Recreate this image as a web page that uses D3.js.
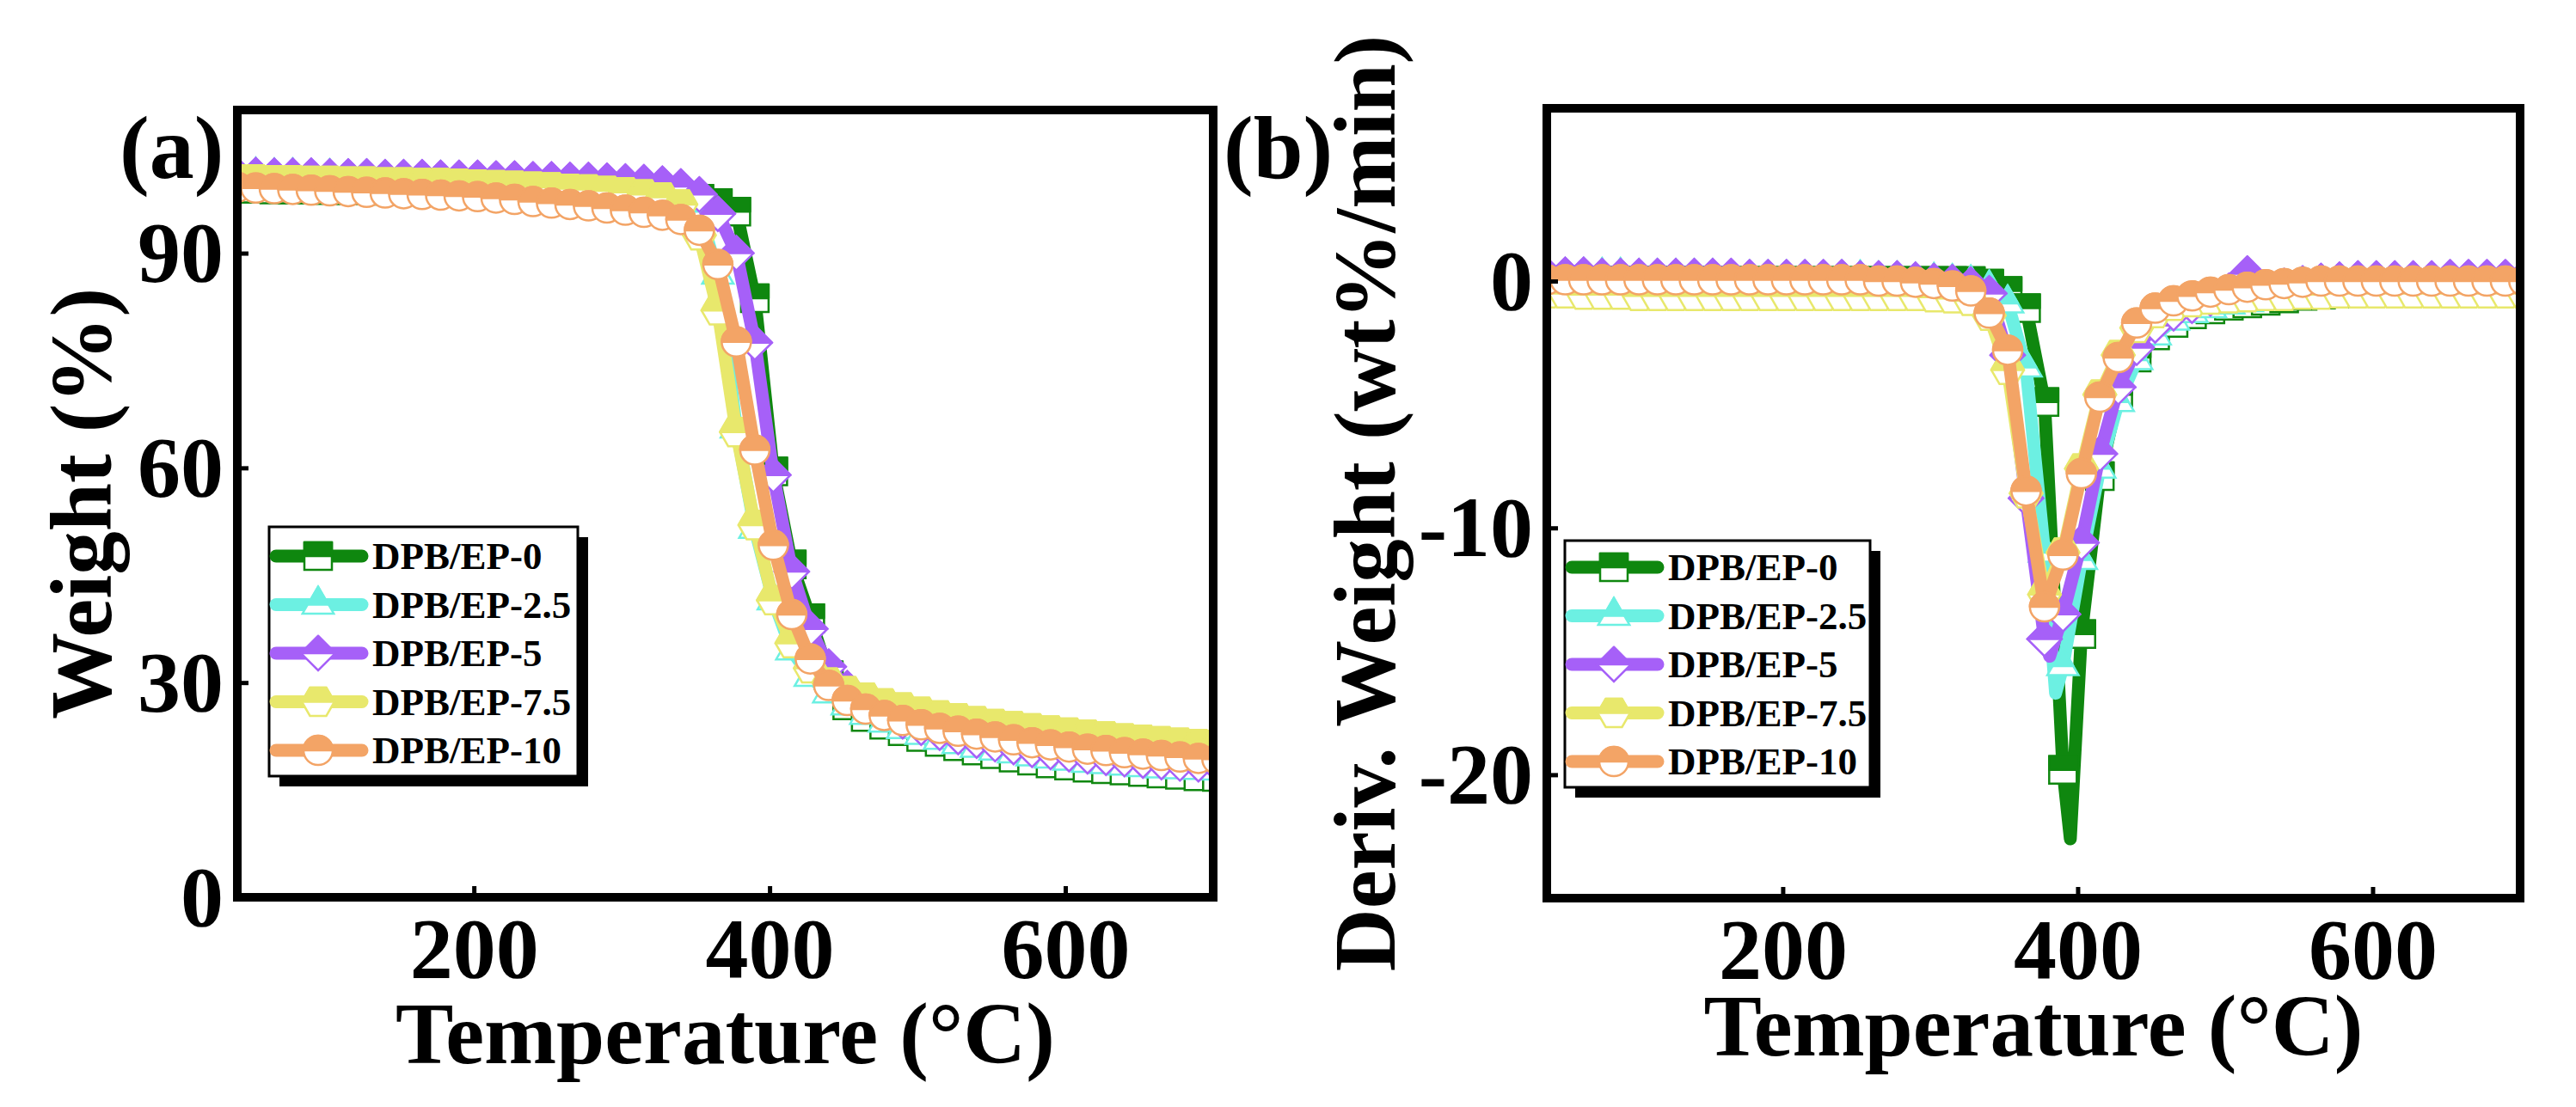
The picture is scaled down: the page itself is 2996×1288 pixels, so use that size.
<!DOCTYPE html>
<html>
<head>
<meta charset="utf-8">
<script src="https://cdn.jsdelivr.net/npm/d3@7"></script>
<style>
  body { margin: 0; background: #fff; }
  svg text { font-family: "Liberation Serif", "Times New Roman", serif; font-weight: bold; fill: #000; }
</style>
</head>
<body>
<svg id="chart" width="2996" height="1288"></svg>
<script>
// temperatures of the plotted points (degC)
const temps = [40, 52.5, 65, 77.5, 90, 102.5, 115, 127.5, 140, 152.5,
    165, 177.5, 190, 202.5, 215, 227.5, 240, 252.5, 265, 277.5,
    290, 302.5, 315, 327.5, 340, 352.5, 365, 377.5, 390, 402.5,
    415, 427.5, 440, 452.5, 465, 477.5, 490, 502.5, 515, 527.5,
    540, 552.5, 565, 577.5, 590, 602.5, 615, 627.5, 640, 652.5,
    665, 677.5, 690, 702.5];

const seriesNames = ['DPB/EP-0', 'DPB/EP-2.5', 'DPB/EP-5', 'DPB/EP-7.5', 'DPB/EP-10'];
const seriesColors = ['#0f870f', '#6cf0e2', '#a660f8', '#e8e86c', '#f3a466'];
const seriesShapes = ['square', 'triangle', 'diamond', 'hexagon', 'circle'];

// (a) weight %
const weightEP0 = [99.0, 99.0, 98.9, 98.9, 98.9, 98.8, 98.8, 98.8, 98.7, 98.7,
    98.7, 98.6, 98.6, 98.6, 98.5, 98.5, 98.4, 98.4, 98.3, 98.3,
    98.2, 98.2, 98.1, 98.0, 97.9, 97.6, 97.0, 95.8, 83.7, 59.5,
    46.5, 39.0, 31.0, 26.8, 25.2, 24.1, 23.2, 22.4, 21.7, 21.1,
    20.5, 20.0, 19.5, 19.1, 18.7, 18.4, 18.1, 17.9, 17.7, 17.5,
    17.3, 17.1, 16.9, 16.8];
const weightEP2_5 = [100.8, 100.8, 100.7, 100.7, 100.6, 100.6, 100.5, 100.5, 100.4, 100.4,
    100.3, 100.3, 100.2, 100.2, 100.1, 100.0, 99.9, 99.8, 99.7, 99.6,
    99.5, 99.3, 99.1, 98.8, 98.2, 95.8, 87.0, 65.5, 51.5, 41.5,
    34.5, 30.8, 28.5, 26.8, 25.5, 24.4, 23.5, 22.7, 22.0, 21.4,
    20.9, 20.5, 20.1, 19.7, 19.4, 19.1, 18.8, 18.6, 18.4, 18.2,
    18.0, 17.9, 17.8, 17.7];
const weightEP5 = [100.9, 100.9, 100.8, 100.8, 100.8, 100.7, 100.7, 100.7, 100.6, 100.6,
    100.6, 100.5, 100.5, 100.5, 100.4, 100.4, 100.3, 100.3, 100.2, 100.2,
    100.1, 100.0, 99.9, 99.7, 99.3, 98.2, 95.5, 90.0, 77.5, 59.0,
    45.5, 37.5, 32.2, 29.2, 27.2, 25.8, 24.6, 23.7, 23.0, 22.4,
    21.9, 21.4, 21.0, 20.6, 20.3, 20.0, 19.7, 19.5, 19.3, 19.1,
    18.9, 18.7, 18.6, 18.5];
const weightEP7_5 = [100.3, 100.3, 100.2, 100.2, 100.1, 100.1, 100.0, 100.0, 99.9, 99.9,
    99.8, 99.8, 99.7, 99.6, 99.5, 99.4, 99.3, 99.2, 99.0, 98.9,
    98.7, 98.5, 98.2, 97.8, 96.8, 92.5, 82.0, 65.0, 52.0, 41.5,
    35.5, 32.0, 30.0, 28.8, 27.9, 27.1, 26.5, 25.9, 25.4, 25.0,
    24.6, 24.2, 23.9, 23.6, 23.3, 23.0, 22.7, 22.5, 22.2, 22.0,
    21.8, 21.6, 21.4, 21.3];
const weightEP10 = [99.2, 99.1, 99.0, 98.9, 98.8, 98.7, 98.6, 98.5, 98.4, 98.3,
    98.2, 98.1, 98.0, 97.9, 97.7, 97.5, 97.2, 97.0, 96.8, 96.6,
    96.3, 96.0, 95.7, 95.3, 94.7, 93.2, 88.4, 77.6, 62.5, 49.2,
    39.5, 33.3, 29.6, 27.5, 26.3, 25.4, 24.7, 24.1, 23.6, 23.2,
    22.8, 22.4, 22.0, 21.6, 21.3, 21.0, 20.7, 20.5, 20.2, 20.0,
    19.8, 19.6, 19.4, 19.3];

// (b) derivative weight, wt%/min
const derivEP0 = [0.0, 0.0, 0.0, 0.0, 0.0, 0.0, 0.0, 0.0, 0.0, 0.0,
    0.0, 0.0, 0.0, 0.0, 0.0, 0.0, 0.0, 0.0, 0.0, 0.0,
    0.0, 0.0, 0.0, 0.0, -0.1, -0.4, -1.1, -4.9, -19.8, -14.3,
    -7.9, -4.6, -3.1, -2.2, -1.7, -1.35, -1.15, -1.0, -0.9, -0.8,
    -0.7, -0.6, -0.55, -0.5, -0.45, -0.4, -0.38, -0.35, -0.33, -0.3,
    -0.3, -0.3, -0.3, -0.3];
const derivEP2_5 = [0.2, 0.2, 0.2, 0.2, 0.2, 0.15, 0.15, 0.15, 0.15, 0.15,
    0.1, 0.1, 0.1, 0.1, 0.1, 0.1, 0.1, 0.1, 0.05, 0.05,
    0.0, 0.0, -0.05, -0.1, -0.3, -0.9, -3.5, -11.0, -15.6, -11.3,
    -7.6, -4.9, -3.2, -2.2, -1.6, -1.3, -1.1, -0.95, -0.85, -0.75,
    -0.65, -0.55, -0.5, -0.45, -0.4, -0.35, -0.3, -0.3, -0.25, -0.25,
    -0.2, -0.2, -0.2, -0.2];
const derivEP5 = [0.25, 0.25, 0.25, 0.2, 0.2, 0.2, 0.2, 0.2, 0.2, 0.2,
    0.2, 0.15, 0.15, 0.15, 0.15, 0.15, 0.15, 0.1, 0.1, 0.1,
    0.05, 0.0, -0.05, -0.15, -0.5, -3.0, -8.8, -14.5, -13.5, -10.6,
    -7.0, -4.3, -2.7, -1.8, -1.3, -1.0, -0.7, -0.4, 0.3, -0.3,
    -0.2, -0.1, 0.0, 0.05, 0.1, 0.1, 0.1, 0.1, 0.1, 0.15,
    0.15, 0.15, 0.15, 0.15];
const derivEP7_5 = [-0.5, -0.5, -0.55, -0.55, -0.55, -0.6, -0.6, -0.6, -0.6, -0.6,
    -0.6, -0.6, -0.6, -0.6, -0.6, -0.6, -0.6, -0.6, -0.6, -0.6,
    -0.6, -0.65, -0.7, -0.8, -1.4, -3.6, -8.6, -12.7, -11.0, -7.6,
    -4.6, -3.0, -1.9, -1.3, -1.0, -0.85, -0.75, -0.7, -0.65, -0.6,
    -0.6, -0.55, -0.55, -0.5, -0.5, -0.5, -0.5, -0.5, -0.5, -0.5,
    -0.5, -0.5, -0.5, -0.5];
const derivEP10 = [0.05, 0.05, 0.05, 0.05, 0.05, 0.05, 0.05, 0.05, 0.05, 0.05,
    0.05, 0.05, 0.05, 0.05, 0.05, 0.05, 0.05, 0.05, 0.0, 0.0,
    -0.05, -0.1, -0.2, -0.4, -1.3, -2.8, -8.5, -13.2, -11.1, -7.8,
    -4.7, -3.1, -1.7, -1.1, -0.8, -0.6, -0.45, -0.35, -0.25, -0.15,
    -0.1, -0.05, 0.0, 0.0, 0.0, 0.0, 0.0, 0.0, 0.0, 0.0,
    0.0, 0.0, 0.0, 0.0];

// peak tips that sit between two symbols (line only, no symbol)
const derivPeakT = [395, 385, 381, null, null];
const derivPeakV = [-22.6, -16.7, -15.2, null, null];

const xTicks = [200, 400, 600];
const weightTicks = [0, 30, 60, 90];
const derivTicks = [-20, -10, 0];

const svg = d3.select('#chart');

// full outline + upper (filled) half of each Origin-style half symbol
function markerPaths(shape) {
    switch (shape) {
        case 'square': {
            const h = 16;
            return { full: `M${-h},${-h}H${h}V${h}H${-h}Z`, top: `M${-h},${-h}H${h}V0H${-h}Z` };
        }
        case 'circle': {
            const r = 17;
            return {
                full: `M${-r},0A${r},${r} 0 1,1 ${r},0A${r},${r} 0 1,1 ${-r},0Z`,
                top: `M${-r},0A${r},${r} 0 0,1 ${r},0Z`
            };
        }
        case 'triangle': {
            const r = 21;
            return {
                full: `M0,${-r}L${0.866 * r},${0.5 * r}L${-0.866 * r},${0.5 * r}Z`,
                top: `M0,${-r}L${0.577 * r},0L${-0.577 * r},0Z`
            };
        }
        case 'diamond': {
            const r = 20;
            return { full: `M0,${-r}L${r},0L0,${r}L${-r},0Z`, top: `M0,${-r}L${r},0L${-r},0Z` };
        }
        case 'hexagon': {
            const r = 19, a = r / 2, b = 0.866 * r;
            return {
                full: `M${-r},0L${-a},${-b}L${a},${-b}L${r},0L${a},${b}L${-a},${b}Z`,
                top: `M${-r},0L${-a},${-b}L${a},${-b}L${r},0Z`
            };
        }
    }
}

function drawMarker(g, px, py, i) {
    const m = markerPaths(seriesShapes[i]);
    const mg = g.append('g').attr('transform', `translate(${px},${py})`);
    mg.append('path').attr('d', m.full)
        .attr('fill', '#fff')
        .attr('stroke', seriesColors[i])
        .attr('stroke-width', 2.5);
    mg.append('path').attr('d', m.top)
        .attr('fill', seriesColors[i])
        .attr('stroke', seriesColors[i])
        .attr('stroke-width', 2.5)
        .attr('stroke-linejoin', 'round');
}

function drawPanel(p) {
    const x = d3.scaleLinear().domain([40, 700]).range([p.left, p.right]);
    const y = d3.scaleLinear().domain(p.yDomain).range([p.bottom, p.top]);

    svg.append('clipPath').attr('id', 'clip-' + p.id)
        .append('rect')
        .attr('x', p.left).attr('y', p.top)
        .attr('width', p.right - p.left).attr('height', p.bottom - p.top);

    const plot = svg.append('g').attr('clip-path', `url(#clip-${p.id})`);
    const line = d3.line().x(d => x(d[0])).y(d => y(d[1]));

    p.series.forEach((vals, i) => {
        const pts = temps.map((t, k) => [t, vals[k]]);
        let linePts = pts;
        if (p.peakT && p.peakT[i] != null) {
            linePts = pts.concat([[p.peakT[i], p.peakV[i]]]).sort((a, b) => a[0] - b[0]);
        }
        plot.append('path')
            .attr('d', line(linePts))
            .attr('fill', 'none')
            .attr('stroke', seriesColors[i])
            .attr('stroke-width', 15)
            .attr('stroke-linejoin', 'round')
            .attr('stroke-linecap', 'round');
        pts.forEach(d => drawMarker(plot, x(d[0]), y(d[1]), i));
    });

    const fmt = d => (d < 0 ? '-' + Math.abs(d) : String(d));

    const xAxis = svg.append('g')
        .attr('transform', `translate(0,${p.bottom})`)
        .call(d3.axisBottom(x).tickValues(xTicks).tickSize(-13).tickPadding(22).tickFormat(fmt));
    const yAxis = svg.append('g')
        .attr('transform', `translate(${p.left},0)`)
        .call(d3.axisLeft(y).tickValues(p.yTicks).tickSize(-13).tickPadding(16).tickFormat(fmt));

    [xAxis, yAxis].forEach(a => {
        a.attr('font-size', 100).attr('font-family', null);
        a.select('.domain').remove();
        a.selectAll('.tick line').attr('stroke', '#000').attr('stroke-width', 5);
    });

    svg.append('rect')
        .attr('x', p.left).attr('y', p.top)
        .attr('width', p.right - p.left).attr('height', p.bottom - p.top)
        .attr('fill', 'none')
        .attr('stroke', '#000')
        .attr('stroke-width', 10);

    svg.append('text')
        .attr('x', (p.left + p.right) / 2).attr('y', p.xTitleY)
        .attr('text-anchor', 'middle')
        .attr('font-size', 101)
        .text('Temperature (°C)');

    svg.append('text')
        .attr('transform', `translate(${p.yTitleX},${(p.top + p.bottom) / 2}) rotate(-90)`)
        .attr('text-anchor', 'middle')
        .attr('font-size', 101)
        .text(p.yTitle);

    svg.append('text')
        .attr('x', p.tagX).attr('y', 207)
        .attr('font-size', 104)
        .text(p.tag);

    drawLegend(p.legend);
}

function drawLegend(L) {
    const g = svg.append('g');
    g.append('rect')
        .attr('x', L.x + 12).attr('y', L.y + 12)
        .attr('width', L.w).attr('height', L.h)
        .attr('fill', '#000');
    g.append('rect')
        .attr('x', L.x).attr('y', L.y)
        .attr('width', L.w).attr('height', L.h)
        .attr('fill', '#fff')
        .attr('stroke', '#000')
        .attr('stroke-width', 3);

    seriesNames.forEach((name, i) => {
        const cy = L.y + L.firstRow + i * 56.5;
        g.append('line')
            .attr('x1', L.x + 8).attr('x2', L.x + 108)
            .attr('y1', cy).attr('y2', cy)
            .attr('stroke', seriesColors[i])
            .attr('stroke-width', 15)
            .attr('stroke-linecap', 'round');
        drawMarker(g, L.x + 57, cy, i);
        g.append('text')
            .attr('x', L.x + 120).attr('y', cy + 15)
            .attr('font-size', 45)
            .text(name);
    });
}

drawPanel({
    id: 'a', left: 276, right: 1411, top: 128, bottom: 1044,
    yDomain: [0, 110], yTicks: weightTicks,
    series: [weightEP0, weightEP2_5, weightEP5, weightEP7_5, weightEP10],
    xTitleY: 1237, yTitleX: 129, yTitle: 'Weight (%)',
    tag: '(a)', tagX: 139,
    legend: { x: 313, y: 613, w: 359, h: 290, firstRow: 34 }
});

drawPanel({
    id: 'b', left: 1799, right: 2931, top: 126, bottom: 1045,
    yDomain: [-25, 7], yTicks: derivTicks,
    series: [derivEP0, derivEP2_5, derivEP5, derivEP7_5, derivEP10],
    peakT: derivPeakT, peakV: derivPeakV,
    xTitleY: 1228, yTitleX: 1622, yTitle: 'Deriv. Weight (wt%/min)',
    tag: '(b)', tagX: 1423,
    legend: { x: 1820, y: 629, w: 355, h: 287, firstRow: 31 }
});
</script>
</body>
</html>
